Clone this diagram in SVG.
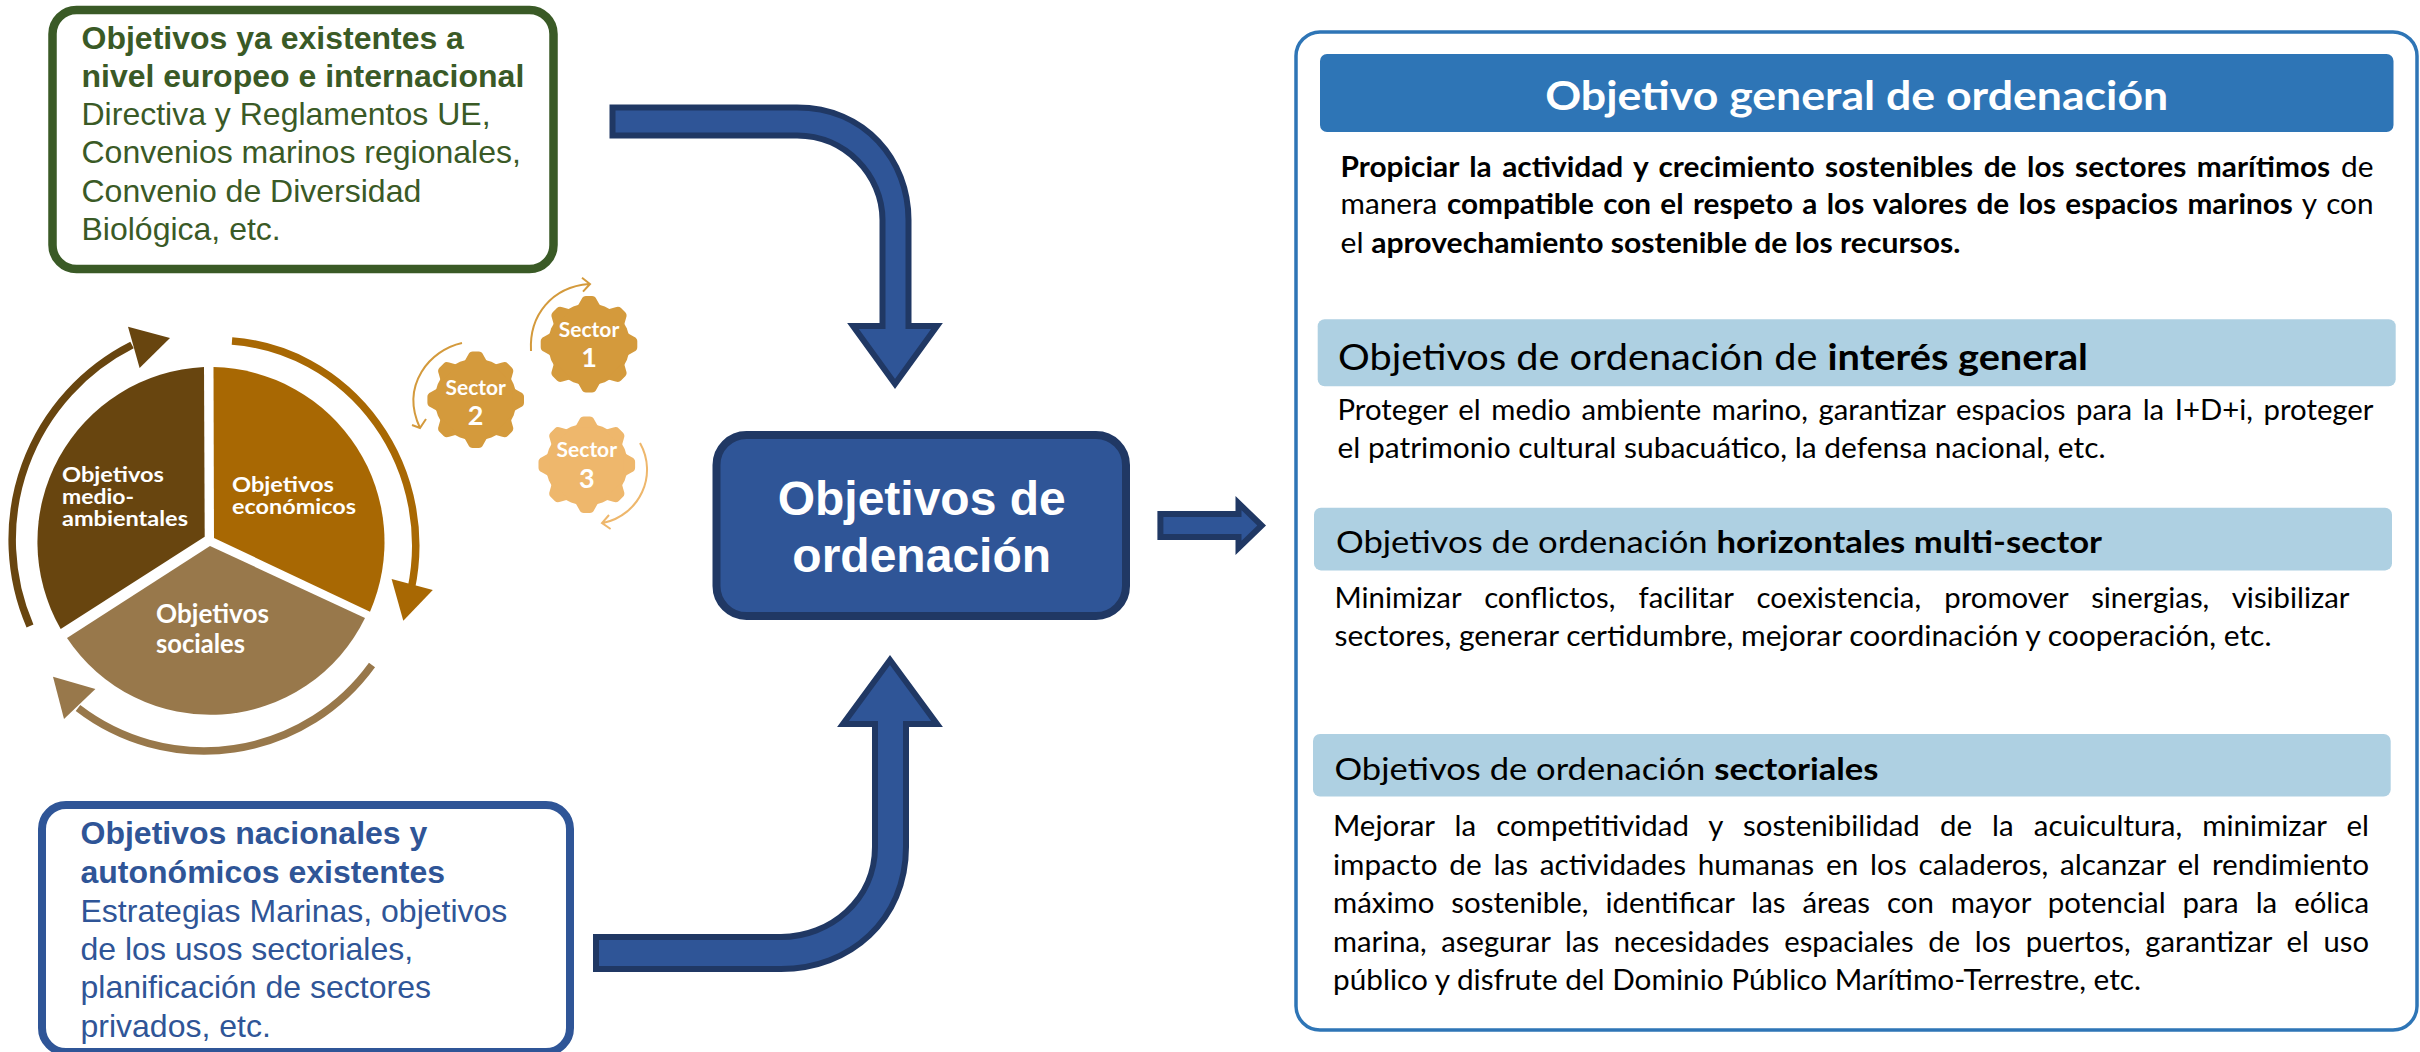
<svg xmlns="http://www.w3.org/2000/svg" xmlns:xlink="http://www.w3.org/1999/xlink" width="2420" height="1052" viewBox="0 0 2420 1052">
<style>
text{white-space:pre}
.ar{font-family:"Liberation Sans",Arial,sans-serif;font-size:32px}
.b{font-weight:700}
.grn{fill:#3a5a26}
.blu{fill:#2f5597}
.c{font-family:Lato,"Open Sans",sans-serif;font-size:28px;fill:#000}
.h3{font-family:Lato,"Open Sans",sans-serif;font-size:31px;fill:#000}
.pie{font-family:Lato,"Open Sans",sans-serif;font-weight:700;fill:#fff}
.sec{font-family:Lato,"Open Sans",sans-serif;font-weight:700;fill:#fff;text-anchor:middle}
.big{fill:#2f5597;stroke:#203864;stroke-linejoin:miter}
.band{fill:#aed0e2}
.thin{fill:none;stroke-width:2}
.ring{fill:none;stroke-width:7.5}
</style>
<defs>
<g id="gear">
<circle cx="0" cy="0" r="41"/>
<path id="tooth" d="M-12-37L-7.5-45Q-6-48.3-3-48.3H3Q6-48.3 7.5-45L12-37Z"/>
<use xlink:href="#tooth" href="#tooth" transform="rotate(45)"/>
<use xlink:href="#tooth" href="#tooth" transform="rotate(90)"/>
<use xlink:href="#tooth" href="#tooth" transform="rotate(135)"/>
<use xlink:href="#tooth" href="#tooth" transform="rotate(180)"/>
<use xlink:href="#tooth" href="#tooth" transform="rotate(225)"/>
<use xlink:href="#tooth" href="#tooth" transform="rotate(270)"/>
<use xlink:href="#tooth" href="#tooth" transform="rotate(315)"/>
</g>
</defs>
<rect width="2420" height="1052" fill="#fff"/>

<g id="connectors">
<path class="big" stroke-width="6" d="M612.5 107.5H797C865 107.5 908.5 160 908.5 220V326H937L895 384L853 326H882.5V220C882.5 175 845 135.5 797 135.5H612.5Z"/>
<path class="big" stroke-width="6" d="M596 937H781C830 937 875 900 875 847V724H843L890 660L937 724H906V847C906 920 850 969 781 969H596Z"/>
<path class="big" stroke-width="6" d="M1160.4 514H1238.5V503.1L1261.7 525.5L1238.5 547.9V537H1160.4Z"/>
</g>

<g id="node-europeo">
<rect x="52.5" y="10" width="501" height="259" rx="24" fill="#fff" stroke="#3a5a26" stroke-width="8.5"/>
<text class="ar b grn" x="81.5" y="49">Objetivos ya existentes a</text>
<text class="ar b grn" x="81.5" y="87">nivel europeo e internacional</text>
<text class="ar grn" x="81.5" y="125">Directiva y Reglamentos UE,</text>
<text class="ar grn" x="81.5" y="163">Convenios marinos regionales,</text>
<text class="ar grn" x="81.5" y="202">Convenio de Diversidad</text>
<text class="ar grn" x="81.5" y="240">Biológica, etc.</text>
</g>

<g id="node-nacional">
<rect x="42" y="805" width="528" height="247" rx="24" fill="#fff" stroke="#2f5597" stroke-width="8"/>
<text class="ar b blu" x="80.5" y="844">Objetivos nacionales y</text>
<text class="ar b blu" x="80.5" y="883">autonómicos existentes</text>
<text class="ar blu" x="80.5" y="922">Estrategias Marinas, objetivos</text>
<text class="ar blu" x="80.5" y="960">de los usos sectoriales,</text>
<text class="ar blu" x="80.5" y="998">planificación de sectores</text>
<text class="ar blu" x="80.5" y="1037">privados, etc.</text>
</g>

<g id="node-ordenacion">
<rect x="716.5" y="435" width="409.5" height="181" rx="30" class="big" stroke-width="8"/>
<text x="921.7" y="515" text-anchor="middle" font-family="'Liberation Sans',Arial,sans-serif" font-weight="700" font-size="48" fill="#fff">Objetivos de</text>
<text x="921.7" y="572" text-anchor="middle" font-family="'Liberation Sans',Arial,sans-serif" font-weight="700" font-size="48" fill="#fff">ordenación</text>
</g>

<g id="node-ciclo">
<path fill="#68450f" d="M204 367A175 175 0 0 0 60.7 629L204.7 536.7Z"/>
<path fill="#a86803" d="M213.5 367A175 175 0 0 1 370 611.7L214 538Z"/>
<path fill="#98784b" d="M210 546L67 638A172 172 0 0 0 365 618Z"/>
<path class="ring" stroke="#68450f" d="M30 626A218 218 0 0 1 132 345"/>
<polygon fill="#68450f" points="128,326.7 170,338 139.6,368"/>
<path class="ring" stroke="#a86803" d="M232 341A198 205 0 0 1 411 590"/>
<polygon fill="#a86803" points="391.6,579 432.8,590 403.3,620.7"/>
<path class="ring" stroke="#98784b" d="M372 665A207 207 0 0 1 78 708"/>
<polygon fill="#98784b" points="53,676.7 95.4,689 64,719"/>
<text class="pie" font-size="20" x="62" y="482" textLength="102" lengthAdjust="spacingAndGlyphs">Objetivos</text>
<text class="pie" font-size="20" x="62" y="504" textLength="72" lengthAdjust="spacingAndGlyphs">medio-</text>
<text class="pie" font-size="20" x="62" y="526" textLength="126" lengthAdjust="spacingAndGlyphs">ambientales</text>
<text class="pie" font-size="20" x="232" y="492" textLength="102" lengthAdjust="spacingAndGlyphs">Objetivos</text>
<text class="pie" font-size="20" x="232" y="514" textLength="124" lengthAdjust="spacingAndGlyphs">económicos</text>
<text class="pie" font-size="26" x="156" y="623" textLength="113" lengthAdjust="spacingAndGlyphs">Objetivos</text>
<text class="pie" font-size="26" x="156" y="653" textLength="89" lengthAdjust="spacingAndGlyphs">sociales</text>
</g>

<g id="node-sector1">
<use xlink:href="#gear" href="#gear" x="589" y="344.3" fill="#d49a3c"/>
<path class="thin" stroke="#d49a3c" d="M531 351C529 315 552 287 589 284M582 277.7L590 284L583 291.7"/>
<text class="sec" x="589" y="337" font-size="21">Sector</text>
<text class="sec" x="589" y="367" font-size="27">1</text>
</g>
<g id="node-sector2">
<use xlink:href="#gear" href="#gear" x="475.7" y="399.7" fill="#d49a3c"/>
<path class="thin" stroke="#d49a3c" d="M462 343C430 350 400 385 420 428M412 425L420 428L426 419"/>
<text class="sec" x="475.7" y="394.5" font-size="21">Sector</text>
<text class="sec" x="475.7" y="425" font-size="27">2</text>
</g>
<g id="node-sector3">
<use xlink:href="#gear" href="#gear" x="586.8" y="464.7" fill="#eeb76c"/>
<path class="thin" stroke="#eeb76c" d="M640 443C658 475 640 515 603 523M609 515L602 523L610.6 529"/>
<text class="sec" x="586.8" y="457" font-size="21">Sector</text>
<text class="sec" x="586.8" y="488" font-size="27">3</text>
</g>

<g id="node-panel">
<rect x="1296" y="32" width="1121" height="998" rx="24" fill="#fff" stroke="#2e75b6" stroke-width="3.5"/>
</g>

<g id="node-general">
<rect x="1320" y="54" width="1073.5" height="78" rx="7" fill="#2e75b6"/>
<text x="1856.7" y="110" text-anchor="middle" font-family="Lato,'Open Sans',sans-serif" font-weight="700" font-size="41" fill="#fff" textLength="623" lengthAdjust="spacingAndGlyphs">Objetivo general de ordenación</text>
<text class="c" x="1340.5" y="177" word-spacing="3" textLength="1033" lengthAdjust="spacingAndGlyphs"><tspan class="b">Propiciar la actividad y crecimiento sostenibles de los sectores marítimos</tspan> de</text>
<text class="c" x="1340.5" y="214" word-spacing="2" textLength="1033" lengthAdjust="spacingAndGlyphs">manera <tspan class="b">compatible con el respeto a los valores de los espacios marinos</tspan> y con</text>
<text class="c" x="1340.5" y="253" textLength="620" lengthAdjust="spacingAndGlyphs">el <tspan class="b">aprovechamiento sostenible de los recursos.</tspan></text>
</g>

<g id="node-interes">
<rect class="band" x="1317.7" y="319.3" width="1078" height="67" rx="7"/>
<text class="c" style="font-size:37px" x="1338" y="370" textLength="750" lengthAdjust="spacingAndGlyphs">Objetivos de ordenación de <tspan class="b">interés general</tspan></text>
<text class="c" x="1337.5" y="420" word-spacing="3" textLength="1036" lengthAdjust="spacingAndGlyphs">Proteger el medio ambiente marino, garantizar espacios para la I+D+i, proteger</text>
<text class="c" x="1337.5" y="458" textLength="768" lengthAdjust="spacingAndGlyphs">el patrimonio cultural subacuático, la defensa nacional, etc.</text>
</g>

<g id="node-horizontales">
<rect class="band" x="1314" y="507.7" width="1078" height="62.7" rx="7"/>
<text class="h3" x="1336" y="553" textLength="766" lengthAdjust="spacingAndGlyphs">Objetivos de ordenación <tspan class="b">horizontales multi-sector</tspan></text>
<text class="c" x="1334.5" y="607.5" word-spacing="15" textLength="1015" lengthAdjust="spacingAndGlyphs">Minimizar conflictos, facilitar coexistencia, promover sinergias, visibilizar</text>
<text class="c" x="1334.5" y="645.5" textLength="937" lengthAdjust="spacingAndGlyphs">sectores, generar certidumbre, mejorar coordinación y cooperación, etc.</text>
</g>

<g id="node-sectoriales">
<rect class="band" x="1313" y="734" width="1077.7" height="62.5" rx="7"/>
<text class="h3" x="1334.5" y="780" textLength="544" lengthAdjust="spacingAndGlyphs">Objetivos de ordenación <tspan class="b">sectoriales</tspan></text>
<text class="c" x="1333" y="836" word-spacing="12" textLength="1036" lengthAdjust="spacingAndGlyphs">Mejorar la competitividad y sostenibilidad de la acuicultura, minimizar el</text>
<text class="c" x="1333" y="875" word-spacing="4" textLength="1036" lengthAdjust="spacingAndGlyphs">impacto de las actividades humanas en los caladeros, alcanzar el rendimiento</text>
<text class="c" x="1333" y="913" word-spacing="9" textLength="1036" lengthAdjust="spacingAndGlyphs">máximo sostenible, identificar las áreas con mayor potencial para la eólica</text>
<text class="c" x="1333" y="951.5" word-spacing="7" textLength="1036" lengthAdjust="spacingAndGlyphs">marina, asegurar las necesidades espaciales de los puertos, garantizar el uso</text>
<text class="c" x="1333" y="989.5" textLength="808" lengthAdjust="spacingAndGlyphs">público y disfrute del Dominio Público Marítimo-Terrestre, etc.</text>
</g>
</svg>
